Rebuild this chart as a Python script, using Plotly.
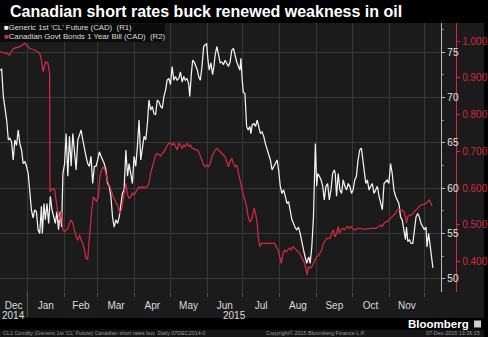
import pandas as pd
import plotly.graph_objects as go

BASE = "2014-12-09"

# Generic 1st 'CL' Future (CAD): day offset from BASE, value
oil_days = [0, 1.4, 2.8, 4.2, 5.6, 7.0, 8.3, 9.7, 11.1, 12.5, 13.9, 15.3, 16.7, 18.1, 19.5, 20.9,
            22.3, 23.7, 25.0, 26.4, 27.8, 29.2, 30.6, 32.0, 33.4, 34.8, 35.6, 37.0, 38.1, 39.5,
            40.9, 42.3, 43.7, 45.1, 46.5, 47.9, 49.2, 50.6, 51.8, 52.9, 54.3, 55.6, 57.0, 58.4,
            59.8, 61.2, 62.6, 64.0, 65.4, 66.8, 68.2, 69.6, 71.0, 72.3, 73.7, 75.1, 76.5, 77.9,
            79.3, 80.7, 82.1, 83.5, 84.9, 86.3, 87.6, 89.0, 90.4, 91.8, 93.2, 94.6, 96.0, 97.4,
            98.8, 100.2, 101.6, 102.9, 104.3, 105.8, 107.2, 108.5, 109.9, 111.3, 112.7, 114.1,
            115.5, 116.9, 118.3, 119.7, 121.1, 122.5, 123.9, 125.2, 126.6, 128.0, 129.4, 130.8,
            132.2, 133.6, 135.0, 136.4, 137.8, 139.2, 140.5, 141.9, 143.3, 144.7, 146.1, 147.5,
            148.9, 150.3, 151.7, 153.1, 154.5, 155.8, 157.2, 158.6, 159.5, 160.9, 162.0, 163.6,
            164.8, 165.9, 167.0, 168.4, 169.8, 171.2, 172.5, 173.7, 174.8, 175.9, 177.3, 178.7,
            179.8, 180.9, 182.3, 183.7, 185.1, 186.5, 187.8, 189.2, 190.6, 192.0, 193.4, 194.8,
            196.2, 197.6, 199.0, 201.7, 202.5, 203.6, 204.5, 205.9, 207.3, 208.6, 210.0, 210.9,
            212.0, 213.4, 214.8, 216.2, 217.6, 218.9, 220.3, 221.7, 223.1, 224.5, 225.9, 227.3,
            228.7, 230.1, 231.5, 232.9, 234.2, 235.6, 237.0, 238.4, 239.8, 241.2, 242.6, 244.0,
            245.4, 246.8, 248.2, 249.5, 250.9, 252.3, 253.7, 255.1, 256.5, 257.9, 258.7, 259.6,
            260.7, 262.1, 263.5, 264.3, 265.1, 266.2, 267.1, 268.5, 269.9, 271.3, 272.6, 274.0,
            275.4, 276.8, 278.2, 279.6, 281.0, 281.8, 282.9, 284.3, 285.7, 287.1, 288.5, 289.9,
            291.3, 292.7, 294.1, 295.5, 296.8, 298.2, 299.6, 301.0, 302.4, 303.8, 305.5, 306.6,
            307.5, 308.8, 310.2, 311.6, 313.0, 314.4, 315.8, 317.2, 318.6, 320.0, 321.4, 322.8,
            324.1, 325.5, 326.9, 328.3, 329.7, 331.1, 332.5, 333.9, 335.3, 336.7, 338.1, 339.5,
            340.8, 341.7, 342.8, 344.2, 345.6, 347.0, 348.4, 349.7, 351.1, 352.5, 353.9, 355.3,
            356.7, 358.1, 358.9, 360.3, 361.7, 363.1, 363.9]
oil_vals = [73.0, 73.1, 70.1, 68.6, 67.5, 65.3, 65.5, 65.1, 63.1, 65.3, 64.7, 66.4, 64.9, 64.2, 62.7, 62.9,
            62.4, 61.6, 59.8, 57.6, 56.7, 57.6, 57.4, 55.4, 55.0, 58.0, 55.0, 58.3, 56.5, 58.3,
            56.1, 59.1, 57.6, 56.7, 56.1, 57.4, 55.4, 57.4, 55.7, 61.6, 62.7, 66.0, 61.3, 65.7,
            62.4, 66.0, 64.2, 62.0, 65.3, 66.0, 66.4, 65.3, 64.2, 63.5, 62.7, 62.4, 63.5, 60.5,
            62.4, 62.4, 63.1, 64.0, 63.5, 63.1, 62.7, 62.0, 60.5, 60.2, 59.1, 56.8, 55.7, 56.5,
            56.1, 56.8, 58.3, 59.4, 59.8, 64.2, 61.3, 62.7, 61.6, 60.5, 63.5, 62.4,
            64.6, 67.5, 63.1, 64.6, 65.7, 65.3, 67.1, 69.7, 68.6, 69.0, 68.2, 68.1,
            69.7, 69.5, 69.0, 68.8, 70.1, 70.8, 71.9, 72.1, 71.4, 73.4, 71.9, 72.3,
            71.9, 72.1, 72.8, 71.7, 72.3, 71.9, 72.1, 71.5, 70.1, 72.7, 74.1, 73.8,
            73.4, 73.0, 72.3, 71.9, 73.4, 75.6, 75.8, 75.9, 74.1, 73.0, 73.8, 72.5,
            73.4, 74.7, 75.6, 74.5, 73.8, 73.9, 73.6, 74.1, 73.8, 73.4, 73.9, 75.2,
            75.4, 74.5, 73.9, 73.0, 74.3, 71.9, 70.6, 70.4, 66.8, 66.4, 66.8, 66.0,
            67.0, 67.1, 66.8, 67.5, 66.8, 66.0, 66.2, 65.7, 64.9, 64.2, 63.8, 63.1,
            62.0, 62.4, 62.7, 63.1, 62.0, 60.2, 59.4, 59.8, 59.1, 58.3, 58.5, 57.6,
            56.5, 56.1, 55.6, 55.4, 55.7, 55.0, 53.9, 53.2, 52.4, 51.7, 52.1, 52.4,
            51.7, 53.5, 56.8, 60.9, 64.9, 60.2, 61.6, 61.3, 60.9, 60.2, 58.7, 60.2,
            60.5, 58.7, 59.8, 61.6, 62.0, 61.6, 59.1, 61.6, 59.8, 59.4, 60.9, 60.2,
            59.8, 60.5, 60.2, 59.4, 59.8, 60.9, 61.3, 63.1, 64.2, 64.4, 62.7, 61.3,
            60.5, 60.9, 59.8, 60.2, 60.5, 59.4, 59.8, 60.2, 59.1, 58.3, 57.6, 60.5,
            60.7, 60.9, 60.5, 62.7, 61.6, 59.8, 59.1, 58.7, 58.3, 56.8, 56.5, 55.4,
            54.3, 55.7, 54.1, 54.3, 53.9, 53.9, 55.4, 56.8, 57.2, 56.8, 56.1, 55.7,
            55.4, 55.7, 53.5, 55.0, 53.5, 52.1, 51.2]

# Canadian Govt Bonds 1 Year Bill (CAD): day offset from BASE, yield
bill_days = [0, 5.6, 8.0, 11.1, 16.7, 20.9, 25.0, 29.2, 33.4, 34.8, 36.2, 38.4, 40.3, 41.7, 42.0,
             44.5, 45.9, 47.3, 48.7, 50.1, 51.5, 52.9, 54.3, 55.6, 57.0, 58.4, 59.8, 61.2, 62.6,
             64.0, 65.4, 66.8, 68.2, 69.6, 71.0, 72.3, 73.7, 74.6, 75.7, 77.1, 78.5, 79.9, 81.2,
             82.6, 84.0, 85.4, 86.8, 88.2, 89.6, 91.0, 92.4, 93.8, 95.2, 96.5, 97.9, 99.3, 100.7,
             102.1, 103.5, 104.4, 105.8, 107.2, 108.5, 109.9, 111.3, 112.7, 114.1, 115.5, 116.9,
             118.3, 119.7, 121.1, 122.5, 123.9, 125.2, 126.6, 128.0, 129.4, 130.8, 132.2, 133.6,
             135.0, 136.4, 137.8, 139.2, 140.5, 141.9, 143.3, 144.7, 146.1, 147.5, 148.9, 150.3,
             151.7, 153.1, 154.5, 155.8, 157.2, 158.6, 160.0, 161.4, 162.8, 164.2, 165.6, 167.0,
             168.4, 169.8, 171.2, 172.5, 173.9, 175.3, 176.7, 178.1, 179.5, 180.9, 182.3, 183.7,
             185.1, 186.5, 187.8, 189.2, 190.6, 192.0, 193.4, 194.8, 196.2, 197.6, 199.0, 201.7,
             203.1, 204.5, 205.9, 207.3, 208.6, 210.0, 211.4, 212.8, 213.7, 214.8, 216.2, 217.0,
             218.4, 219.8, 222.6, 225.3, 228.1, 230.9, 232.3, 233.7, 235.1, 236.5, 237.9, 239.3,
             240.6, 242.0, 243.4, 244.8, 246.2, 247.6, 249.0, 250.4, 251.8, 253.2, 254.6, 256.0,
             257.3, 258.2, 259.3, 260.7, 262.1, 263.5, 264.9, 266.2, 267.6, 269.0, 270.4, 271.8,
             273.2, 274.6, 276.0, 277.4, 278.8, 280.2, 281.5, 282.9, 284.3, 285.2, 286.6, 288.0,
             289.3, 290.7, 292.1, 293.5, 294.9, 296.3, 297.7, 299.1, 300.5, 303.2, 306.1, 311.6,
             315.8, 318.6, 320.0, 321.4, 322.8, 324.2, 325.5, 326.9, 328.3, 329.7, 331.1, 332.5,
             333.9, 335.3, 336.7, 338.1, 339.5, 340.8, 341.7, 342.8, 344.2, 345.6, 347.0, 348.4,
             349.7, 351.1, 352.5, 353.9, 355.3, 356.7, 358.1, 359.5, 360.9, 362.3, 363.1]
bill_vals = [0.971, 0.967, 0.962, 0.980, 0.985, 0.994, 0.980, 0.976, 0.967, 0.949, 0.917, 0.944, 0.940, 0.912, 0.590,
             0.599, 0.595, 0.558, 0.531, 0.513, 0.536, 0.486, 0.481, 0.486, 0.490, 0.504, 0.513, 0.504, 0.486,
             0.467, 0.458, 0.472, 0.458, 0.449, 0.431, 0.408, 0.406, 0.440, 0.504, 0.540, 0.576, 0.567, 0.563,
             0.576, 0.631, 0.649, 0.658, 0.649, 0.631, 0.613, 0.604, 0.586, 0.576, 0.567, 0.558, 0.549, 0.531,
             0.540, 0.567, 0.586, 0.613, 0.581, 0.572, 0.576, 0.586, 0.581, 0.590, 0.595, 0.604,
             0.599, 0.604, 0.599, 0.604, 0.604, 0.613, 0.640, 0.658, 0.676, 0.690, 0.694, 0.690,
             0.687, 0.694, 0.699, 0.708, 0.717, 0.722, 0.722, 0.717, 0.722, 0.713, 0.704, 0.722,
             0.717, 0.708, 0.717, 0.713, 0.722, 0.713, 0.717, 0.708, 0.708, 0.704, 0.704, 0.699,
             0.685, 0.672, 0.663, 0.658, 0.663, 0.658, 0.667, 0.685, 0.694, 0.704, 0.708, 0.704,
             0.699, 0.694, 0.690, 0.685, 0.672, 0.658, 0.672, 0.681, 0.667, 0.658, 0.663, 0.622,
             0.595, 0.581, 0.567, 0.549, 0.522, 0.508, 0.513, 0.531, 0.545, 0.531, 0.504, 0.467,
             0.440, 0.449, 0.449, 0.449, 0.451, 0.449, 0.440, 0.431, 0.413, 0.395, 0.422, 0.431,
             0.426, 0.431, 0.436, 0.431, 0.440, 0.436, 0.431, 0.426, 0.422, 0.413, 0.404, 0.395,
             0.377, 0.363, 0.386, 0.381, 0.386, 0.395, 0.408, 0.413, 0.415, 0.422, 0.431, 0.449,
             0.458, 0.463, 0.463, 0.463, 0.476, 0.486, 0.467, 0.476, 0.495, 0.476, 0.486, 0.490,
             0.486, 0.490, 0.495, 0.490, 0.495, 0.490, 0.486, 0.486, 0.490, 0.490, 0.487, 0.490,
             0.490, 0.495, 0.499, 0.495, 0.504, 0.508, 0.508, 0.513, 0.517, 0.522, 0.526, 0.531,
             0.540, 0.542, 0.540, 0.540, 0.536, 0.522, 0.504, 0.522, 0.526, 0.526, 0.531, 0.536,
             0.540, 0.545, 0.549, 0.554, 0.554, 0.556, 0.558, 0.563, 0.567, 0.558, 0.551]

oil_ticks = [50, 55, 60, 65, 70, 75]
bill_ticks = [0.4, 0.5, 0.6, 0.7, 0.8, 0.9, 1.0]
month_names = ["Dec", "Jan", "Feb", "Mar", "Apr", "May", "Jun", "Jul", "Aug", "Sep", "Oct", "Nov"]
x_range = ["2014-12-09", "2015-12-15"]

OIL_NAME = "Generic 1st 'CL' Future (CAD)  (R1)"
BILL_NAME = "Canadian Govt Bonds 1 Year Bill (CAD)  (R2)"

WHITE = "#f2f2f2"
RED = "#d22a43"
BG = "#1b1b1b"
GRID = "#383838"

base = pd.Timestamp(BASE)
oil_x = base + pd.to_timedelta(oil_days, unit="D")
bill_x = base + pd.to_timedelta(bill_days, unit="D")

# month boundaries (gridlines) and centred month labels over the visible part of each month
r0, r1 = pd.Timestamp(x_range[0]), pd.Timestamp(x_range[1])
month_starts = pd.date_range("2014-12-01", "2015-12-01", freq="MS")
grid_vals = [m for m in month_starts if r0 <= m <= r1]
label_vals = []
for i, name in enumerate(month_names):
    a = max(month_starts[i], r0)
    b = min(month_starts[i + 1], r1)
    label_vals.append(a + (b - a) / 2)

W, H = 488, 337
T, B = 23, 45
PH = H - T - B


def py(px):
    return (H - B - px) / PH


fig = go.Figure()
fig.add_trace(go.Scatter(x=oil_x, y=oil_vals, mode="lines", name=OIL_NAME,
                         line=dict(color=WHITE, width=1.25), xaxis="x", yaxis="y", showlegend=False))
fig.add_trace(go.Scatter(x=bill_x, y=bill_vals, mode="lines", name=BILL_NAME,
                         line=dict(color=RED, width=1.25), xaxis="x", yaxis="y2", showlegend=False))
# invisible carrier for the month-label axis
fig.add_trace(go.Scatter(x=[oil_x[0]], y=[oil_vals[0]], mode="markers", marker=dict(opacity=0),
                         xaxis="x2", yaxis="y", showlegend=False, hoverinfo="skip"))

font_main = "Liberation Sans, Arial, sans-serif"

fig.update_layout(
    width=W, height=H,
    margin=dict(l=0, r=0, t=T, b=B),
    paper_bgcolor="#000000",
    plot_bgcolor=BG,
    font=dict(family=font_main, color="#dddddd", size=10),
    title=dict(text="<b>Canadian short rates buck renewed weakness in oil</b>",
               x=10 / W, xanchor="left", xref="container",
               y=1 - 11.5 / H, yanchor="middle", yref="container",
               font=dict(family=font_main, size=16, color="#ffffff")),
    xaxis=dict(type="date", domain=[0, 445 / W], range=x_range,
               tickvals=grid_vals, showticklabels=False,
               showgrid=True, gridcolor=GRID, gridwidth=1,
               ticks="outside", ticklen=4, tickcolor="#555555",
               showline=False, zeroline=False),
    xaxis2=dict(type="date", overlaying="x", matches="x", anchor="y", side="bottom",
                tickvals=label_vals, ticktext=month_names, showgrid=False, ticks="",
                ticklabelstandoff=6,
                tickfont=dict(size=10, color="#dddddd"), showline=False, zeroline=False),
    yaxis=dict(side="right", anchor="x", range=[48.54, 78.2],
               tickvals=oil_ticks, showgrid=True, gridcolor=GRID,
               ticks="outside", ticklen=3, tickcolor="#bbbbbb",
               showline=True, linecolor="#bbbbbb", linewidth=1,
               minor=dict(dtick=2.5, ticklen=2, tickcolor="#888888", ticks="outside", showgrid=False),
               tickfont=dict(size=10, color="#e6e6e6"), zeroline=False),
    yaxis2=dict(side="right", overlaying="y", anchor="free", position=460 / W,
                range=[0.3166, 1.0496], tickvals=bill_ticks, tickformat=".3f",
                showgrid=False, ticks="outside", ticklen=3, tickcolor=RED,
                showline=True, linecolor=RED, linewidth=1,
                tickfont=dict(size=10, color=RED), zeroline=False),
)

shapes = [
    dict(type="rect", xref="paper", yref="paper", x0=0, x1=1, y0=py(318), y1=1,
         fillcolor=BG, line=dict(width=0), layer="below"),
    dict(type="rect", xref="paper", yref="paper", x0=0, x1=1, y0=py(337), y1=py(329.5),
         fillcolor="#161616", line=dict(width=0), layer="below"),
    dict(type="rect", xref="paper", yref="paper", x0=0, x1=166 / W, y0=py(42), y1=py(23.5),
         fillcolor="rgba(8,8,8,0.85)", line=dict(width=0), layer="above"),
    dict(type="line", xref="x", yref="paper", x0="2015-01-01", x1="2015-01-01",
         y0=py(317), y1=py(292), line=dict(color="#555555", width=1)),
    dict(type="rect", xref="paper", yref="paper", x0=478 / W, x1=485 / W, y0=py(327.5), y1=py(320.5),
         fillcolor="#cfcfcf", line=dict(width=0)),
]
fig.update_layout(shapes=shapes)

annotations = []
for txt, color, ypx in [(OIL_NAME, WHITE, 28.0), (BILL_NAME, RED, 37.0)]:
    annotations.append(dict(text=f"<span style='color:{color}'>■</span>{txt}", x=2 / W, y=py(ypx),
                            xref="paper", yref="paper", xanchor="left", yanchor="middle",
                            showarrow=False,
                            font=dict(size=7.8, color="#dddddd", family=font_main)))

annotations += [
    dict(text="2014", x=label_vals[0], y=py(315), xref="x", yref="paper", showarrow=False,
         xanchor="center", yanchor="middle", font=dict(size=10, color="#dddddd")),
    dict(text="2015", x=month_starts[1] + (r1 - month_starts[1]) / 2, y=py(315), xref="x", yref="paper",
         showarrow=False, xanchor="center", yanchor="middle", font=dict(size=10, color="#dddddd")),
    dict(text="<b>Bloomberg</b>", x=475 / W, y=py(324), xref="paper", yref="paper",
         showarrow=False, xanchor="right", yanchor="middle",
         font=dict(size=11.5, color="#ffffff", family=font_main)),
    dict(text="CL1 Comdty (Generic 1st 'CL' Future) Canadian short rates buc  Daily 07DEC2014-0",
         x=1 / W, y=py(333.5), xref="paper", yref="paper", showarrow=False,
         xanchor="left", yanchor="middle", font=dict(size=5.4, color="#9a9a9a")),
    dict(text="Copyright© 2015 Bloomberg Finance L.P.", x=318 / W, y=py(333.5),
         xref="paper", yref="paper", showarrow=False, xanchor="center", yanchor="middle",
         font=dict(size=5.4, color="#9a9a9a")),
    dict(text="07-Dec-2015 13:36:15", x=486 / W, y=py(333.5), xref="paper", yref="paper",
         showarrow=False, xanchor="right", yanchor="middle",
         font=dict(size=5.4, color="#9a9a9a")),
]
fig.update_layout(annotations=annotations)

fig.write_html("out.html")
